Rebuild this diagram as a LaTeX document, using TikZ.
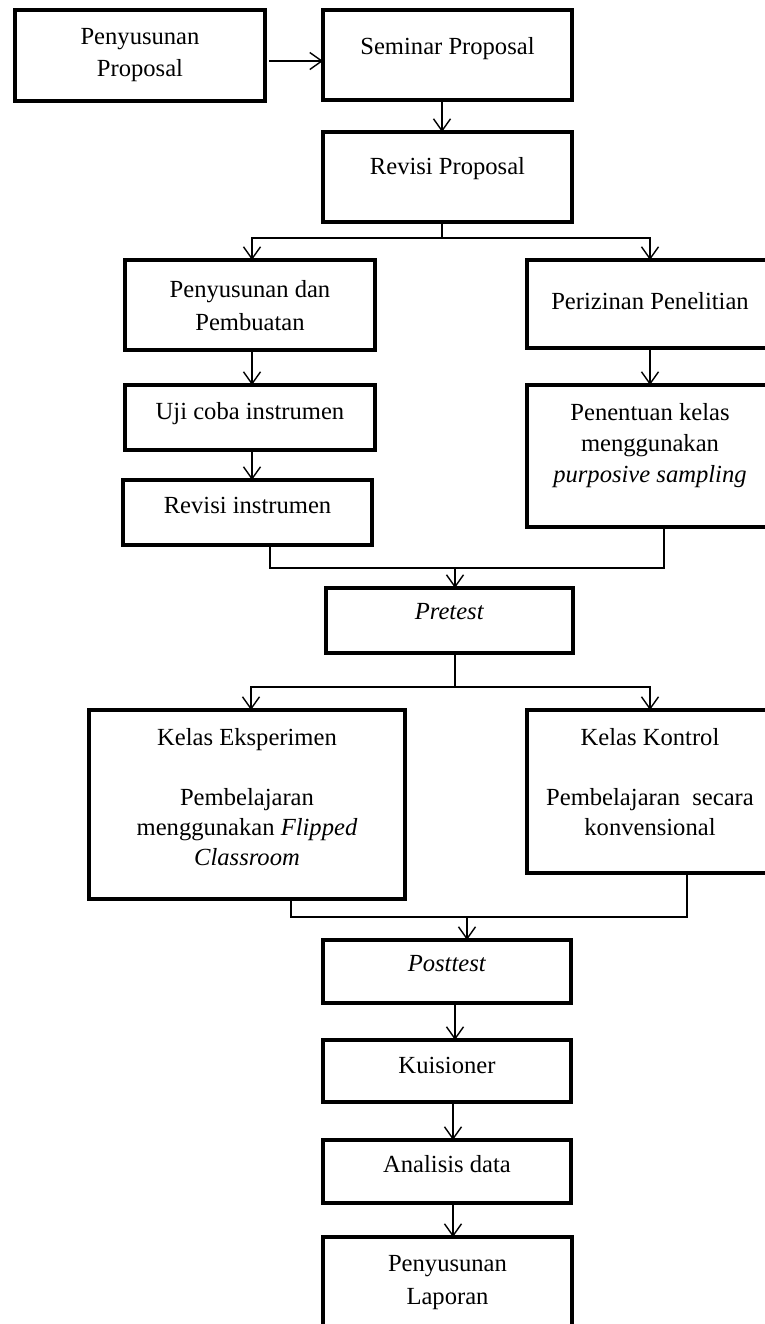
\documentclass[tikz,border=0pt]{standalone}
\usepackage{fontspec}
\setmainfont{Liberation Serif}
\usetikzlibrary{arrows.meta,calc}
\newcommand\bxt[4]{\parbox[c][#2][t]{#1}{\fontsize{12.3}{15}\selectfont\centering\vspace*{#3}#4\par}}
\tikzset{
  box/.style={draw, line width=1.8pt, inner sep=0pt, outer sep=0pt, anchor=north west},
  conn/.style={line width=0.65pt},
  arr/.style={conn, -{Straight Barb[length=6pt,width=8.5pt,line width=0.7pt]}}
}
\begin{document}
\begin{tikzpicture}[x=0.5pt,y=-0.5pt]
\useasboundingbox (0,0) rectangle (765,1324);
\fill[white] (0,0) rectangle (765,1324);
\clip (0,0) rectangle (765,1324);

\node[box] (pp)   at (15,10)   {\bxt{125pt}{45.5pt}{9pt}{Penyusunan\\[1pt]Proposal}};
\node[box] (sem)  at (323,10)  {\bxt{124.5pt}{45pt}{13.5pt}{Seminar Proposal}};
\node[box] (revp) at (323,132) {\bxt{124.5pt}{45pt}{12.5pt}{Revisi Proposal}};
\node[box] (pdp)  at (125,260) {\bxt{125pt}{45pt}{10pt}{Penyusunan dan\\[1.5pt]Pembuatan}};
\node[box] (uji)  at (125,385) {\bxt{125pt}{32.5pt}{8.5pt}{Uji coba instrumen}};
\node[box] (revi) at (123,480) {\bxt{124.5pt}{32.5pt}{8.5pt}{Revisi instrumen}};
\node[box] (per)  at (527,260) {\bxt{123pt}{44pt}{16pt}{Perizinan Penelitian}};
\node[box] (pen)  at (527,385) {\bxt{123pt}{71pt}{9pt}{Penentuan kelas\\[0.5pt]menggunakan\\[0.5pt]\textit{purposive sampling}}};
\node[box] (pre)  at (326,588) {\bxt{123.5pt}{32.5pt}{7.5pt}{\textit{Pretest}}};
\node[box] (eks)  at (89,710)  {\bxt{158pt}{94.5pt}{9pt}{Kelas Eksperimen\\[15pt]Pembelajaran\\menggunakan \textit{Flipped}\\\textit{Classroom}}};
\node[box] (kon)  at (527,710) {\bxt{123pt}{81.5pt}{9pt}{Kelas Kontrol\\[15pt]Pembelajaran\ \ secara\\konvensional}};
\node[box] (post) at (323,940) {\bxt{124pt}{31.5pt}{7.5pt}{\textit{Posttest}}};
\node[box] (kuis) at (323,1040){\bxt{124pt}{31pt}{8.5pt}{Kuisioner}};
\node[box] (ana)  at (323,1140){\bxt{124pt}{31.5pt}{7.5pt}{Analisis data}};
\node[box] (lap)  at (323,1237){\bxt{124.5pt}{60pt}{9pt}{Penyusunan\\[1.5pt]Laporan}};

% top row
\draw[arr] ([xshift=2pt,yshift=-2.75pt]pp.east) -- ([yshift=-2.75pt]pp.east -| sem.west);
\draw[arr] ([xshift=-2.75pt]sem.south) -- ([xshift=-2.75pt]sem.south |- revp.north);

% split after Revisi Proposal
\coordinate (j1) at ([xshift=-2.75pt,yshift=-8pt]revp.south);
\draw[conn] ([xshift=-2.75pt]revp.south) -- (j1);
\draw[arr] (j1) -| ([xshift=1pt]pdp.north);
\draw[arr] (j1) -| (per.north);

% left column
\draw[arr] ([xshift=1pt]pdp.south) -- ([xshift=1pt]pdp.south |- uji.north);
\draw[arr] ([xshift=1pt]uji.south) -- ([xshift=1pt]uji.south |- revi.north);
% right column
\draw[arr] (per.south) -- (per.south |- pen.north);

% merge into Pretest
\coordinate (j2) at ([xshift=2.75pt,yshift=10pt]pre.north);
\draw[conn] ([xshift=11.25pt]revi.south) |- ([xshift=7pt]pen.south |- j2) -- ([xshift=7pt]pen.south);
\draw[arr] (j2) -- ([xshift=2.75pt]pre.north);

% split after Pretest
\coordinate (j3) at ([xshift=2.75pt,yshift=-17pt]pre.south);
\draw[conn] ([xshift=2.75pt]pre.south) -- (j3);
\draw[arr] (j3) -| ([xshift=2pt]eks.north);
\draw[arr] (j3) -| (kon.north);

% merge into Posttest
\coordinate (j4) at ([xshift=10pt,yshift=11.5pt]post.north);
\draw[conn] ([xshift=22pt]eks.south) |- ([xshift=18.5pt]kon.south |- j4) -- ([xshift=18.5pt]kon.south);
\draw[arr] (j4) -- ([xshift=10pt]post.north);

% bottom chain
\draw[arr] ([xshift=4pt]post.south) -- ([xshift=4pt]post.south |- kuis.north);
\draw[arr] ([xshift=3pt]kuis.south) -- ([xshift=3pt]kuis.south |- ana.north);
\draw[arr] ([xshift=3pt]ana.south) -- ([xshift=3pt]ana.south |- lap.north);
\end{tikzpicture}
\end{document}
